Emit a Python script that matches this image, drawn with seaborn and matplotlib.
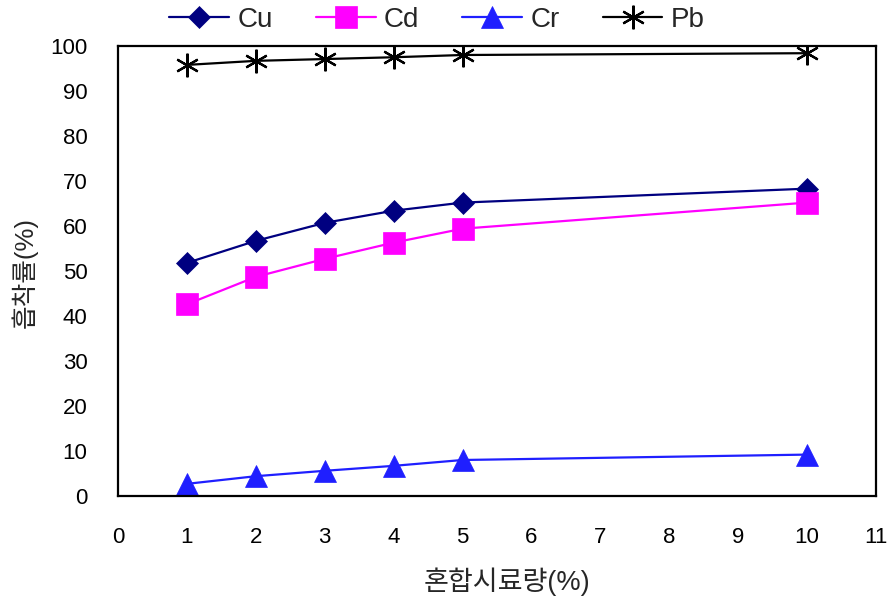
import matplotlib
matplotlib.use("Agg")
import matplotlib.pyplot as plt
import seaborn as sns
import pandas as pd

# Adsorption rate (%) by amount of mixed sample (%)
amounts = [1, 2, 3, 4, 5, 10]
cu = [51.8, 56.7, 60.7, 63.4, 65.2, 68.3]
cd = [42.6, 48.7, 52.7, 56.3, 59.4, 65.2]
cr = [2.7, 4.4, 5.6, 6.7, 8.0, 9.2]
pb = [95.8, 96.7, 97.1, 97.5, 98.0, 98.4]

metals = ["Cu", "Cd", "Cr", "Pb"]
x_ticks = list(range(0, 12))
y_ticks = list(range(0, 101, 10))

colors = {"Cu": "#000080", "Cd": "#FF00FF", "Cr": "#1F1FFF", "Pb": "#000000"}
markers = {"Cu": "D", "Cd": "s", "Cr": "^", "Pb": (6, 2, 0)}
msizes = {"Cu": 11, "Cd": 15.5, "Cr": 15.5, "Pb": 17}

df = pd.concat(
    [pd.DataFrame({"amount": amounts, "rate": vals, "metal": name})
     for name, vals in zip(metals, [cu, cd, cr, pb])],
    ignore_index=True,
)

sns.set_theme(style="white")
plt.rcParams["font.family"] = ["Liberation Sans", "Noto Sans CJK KR", "DejaVu Sans"]

fig = plt.figure(figsize=(8.9, 6.06), dpi=100)
ax = fig.add_axes([118 / 890, 1 - 496 / 606, (876 - 118) / 890, (496 - 46) / 606])

handles = []
for name in metals:
    sub = df[df["metal"] == name]
    sns.lineplot(data=sub, x="amount", y="rate", ax=ax, color=colors[name],
                 marker=markers[name], markersize=msizes[name],
                 markeredgecolor=colors[name],
                 markeredgewidth=1.6 if name == "Pb" else 0.5,
                 linewidth=1.6, label=name, legend=False)
    handles.append(ax.lines[-1])

ax.set_xlim(0, 11)
ax.set_ylim(0, 100)
ax.set_xticks(x_ticks)
ax.set_yticks(y_ticks)
ax.set_xticklabels([str(v) for v in x_ticks])
ax.set_yticklabels([str(v) for v in y_ticks])
ax.tick_params(axis="both", direction="in", length=7, width=1.5,
               colors="black", labelsize=16, pad=22)
ax.tick_params(axis="x", top=False)
ax.tick_params(axis="y", right=False)
for sp in ax.spines.values():
    sp.set_visible(True)
    sp.set_color("black")
    sp.set_linewidth(1.6)
ax.grid(False)

ax.set_xlabel("혼합시료량(%)", fontsize=19.5, va="center", ha="center")
ax.xaxis.set_label_coords((507 - 118) / 758, (496 - 582) / 450)
ax.set_ylabel("흡착률(%)", fontsize=18.5, va="center", ha="center")
ax.yaxis.set_label_coords((24 - 118) / 758, (496 - 272) / 450)

fig.legend(handles=handles, labels=metals, loc="center",
           bbox_to_anchor=(437 / 890, 1 - 20 / 606), ncol=4, frameon=False,
           fontsize=20, handlelength=2.15, handletextpad=0.3,
           columnspacing=1.55, borderaxespad=0)

fig.savefig("out.png", dpi=100, facecolor="white")
